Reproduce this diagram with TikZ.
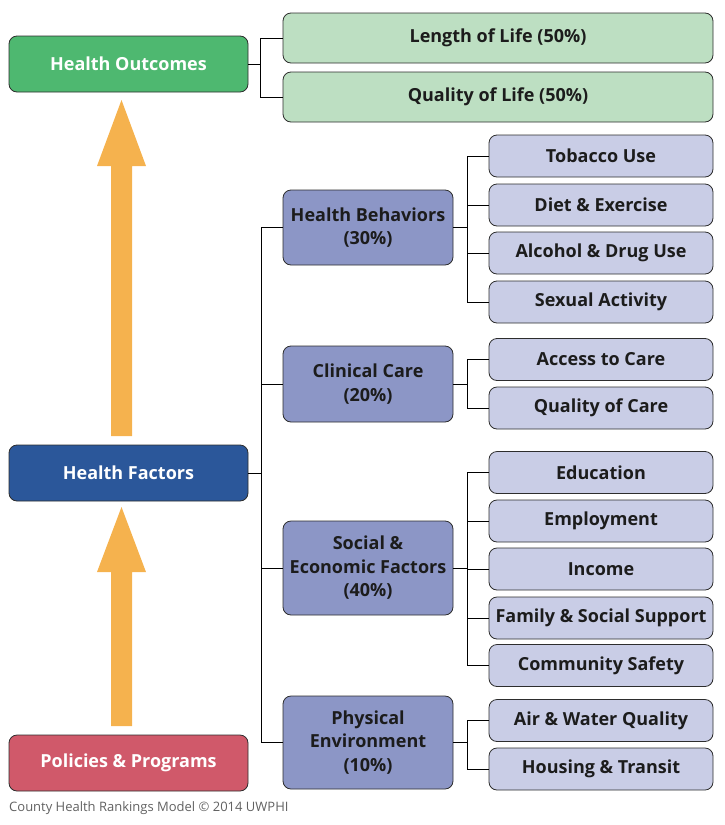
\documentclass[tikz,border=0pt]{standalone}
\usepackage{fontspec}
\setmainfont{Open Sans}
\definecolor{ogreen}{RGB}{78,184,112}
\definecolor{lgreen}{RGB}{189,223,194}
\definecolor{fblue}{RGB}{43,87,154}
\definecolor{midblue}{RGB}{140,150,198}
\definecolor{lav}{RGB}{201,205,230}
\definecolor{pred}{RGB}{208,89,106}
\definecolor{orng}{RGB}{245,178,78}
\definecolor{txt}{RGB}{28,28,28}
\definecolor{border}{RGB}{45,45,45}
\tikzset{
  basebox/.style={draw=border, line width=0.8pt, rounded corners=8pt, inner sep=0pt, align=center, font=\fontsize{18}{23.5}\selectfont\bfseries},
  mainbox/.style={basebox, minimum width=239pt, minimum height=56pt, text=white},
  outleaf/.style={basebox, fill=lgreen, text=txt, minimum width=430pt, minimum height=50pt},
  midbox/.style={basebox, fill=midblue, text=txt, minimum width=170pt},
  leaf/.style={basebox, fill=lav, text=txt, minimum width=224pt, minimum height=42pt},
  conn/.style={draw=black, line width=0.9pt},
  bigarrow/.style={fill=orng, draw=none}
}
\begin{document}
\begin{tikzpicture}[x=1pt,y=-1pt]
\useasboundingbox (0,0) rectangle (724,825);
% main boxes
\node[mainbox, fill=ogreen] (ho) at (128.5,64) {Health Outcomes};
\node[mainbox, fill=fblue] (hf) at (128.5,473) {Health Factors};
\node[mainbox, fill=pred] (pp) at (128.5,763) {Policies \& Programs};
% outcomes leaves
\node[outleaf] (lol) at (498,38) {Length of Life (50\%)};
\node[outleaf] (qol) at (498,97) {Quality of Life (50\%)};
% mid boxes
\node[midbox, minimum height=75pt] (hb) at (368,227.5) {Health Behaviors\\(30\%)};
\node[midbox, minimum height=76pt] (cc) at (368,384) {Clinical Care\\(20\%)};
\node[midbox, minimum height=94pt] (se) at (368,568) {Social \&\\Economic Factors\\(40\%)};
\node[midbox, minimum height=93pt] (pe) at (368,742.5) {Physical\\Environment\\(10\%)};
% leaves
\node[leaf] (tob) at (601,156) {Tobacco Use};
\node[leaf] (die) at (601,205) {Diet \& Exercise};
\node[leaf] (alc) at (601,253) {Alcohol \& Drug Use};
\node[leaf] (sex) at (601,302) {Sexual Activity};
\node[leaf] (acc) at (601,359.5) {Access to Care};
\node[leaf] (qoc) at (601,408) {Quality of Care};
\node[leaf] (edu) at (601,472.5) {Education};
\node[leaf] (emp) at (601,521) {Employment};
\node[leaf] (inc) at (601,569) {Income};
\node[leaf] (fam) at (601,618) {Family \& Social Support};
\node[leaf] (com) at (601,665.5) {Community Safety};
\node[leaf] (air) at (601,720.5) {Air \& Water Quality};
\node[leaf] (hou) at (601,769) {Housing \& Transit};
% spines
\coordinate (so) at (260,0);
\coordinate (sm) at (261,0);
\coordinate (sl) at (467,0);
% outcomes bracket
\draw[conn] (ho.east) -- (ho.east -| so);
\draw[conn] (lol.west) -- (lol.west -| so) -- (qol.west -| so) -- (qol.west);
% main spine
\draw[conn] (hf.east) -- (hf.east -| sm);
\draw[conn] (hb.west) -- (hb.west -| sm) -- (pe.west -| sm) -- (pe.west);
\draw[conn] (cc.west) -- (cc.west -| sm);
\draw[conn] (se.west) -- (se.west -| sm);
% health behaviors bracket
\draw[conn] (hb.east) -- (hb.east -| sl);
\draw[conn] (tob.west) -- (tob.west -| sl) -- (sex.west -| sl) -- (sex.west);
\draw[conn] (die.west) -- (die.west -| sl);
\draw[conn] (alc.west) -- (alc.west -| sl);
% clinical care bracket
\draw[conn] (cc.east) -- (cc.east -| sl);
\draw[conn] (acc.west) -- (acc.west -| sl) -- (qoc.west -| sl) -- (qoc.west);
% social bracket
\draw[conn] (se.east) -- (se.east -| sl);
\draw[conn] (edu.west) -- (edu.west -| sl) -- (com.west -| sl) -- (com.west);
\draw[conn] (emp.west) -- (emp.west -| sl);
\draw[conn] (inc.west) -- (inc.west -| sl);
\draw[conn] (fam.west) -- (fam.west -| sl);
% physical bracket
\draw[conn] (pe.east) -- (pe.east -| sl);
\draw[conn] (air.west) -- (air.west -| sl) -- (hou.west -| sl) -- (hou.west);
% big orange arrows
\fill[bigarrow] (111,436) -- (111,166) -- (97,166) -- (121.5,100) -- (146,166) -- (132,166) -- (132,436) -- cycle;
\fill[bigarrow] (111,726) -- (111,572) -- (97,572) -- (121.5,507) -- (146,572) -- (132,572) -- (132,726) -- cycle;
% caption
\node[anchor=west, inner sep=0pt, text=black!62, font=\fontsize{13}{15}\selectfont] (cap) at (9,808) {County Health Rankings Model © 2014 UWPHI};
\end{tikzpicture}
\end{document}
